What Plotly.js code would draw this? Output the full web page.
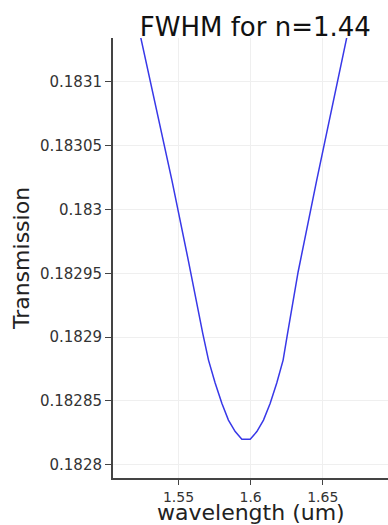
<!DOCTYPE html>
<html>
<head>
<meta charset="utf-8">
<script src="https://cdn.plot.ly/plotly-3.0.1.min.js"></script>
<style>html,body{margin:0;padding:0;background:#fff;}#chart{width:388px;height:525px;}</style>
</head>
<body>
<div id="chart"></div>
<script>
// wavelength (um)
const wavelength = [1.5197, 1.5240, 1.5454, 1.5570, 1.5630, 1.5668, 1.5708, 1.5754, 1.5801, 1.5846, 1.5893, 1.5939, 1.5997, 1.6043, 1.6089, 1.6135, 1.6181, 1.6225, 1.6253, 1.6329, 1.6458, 1.6666, 1.6706];
// transmission
const transmission = [0.183156, 0.183134, 0.183023, 0.182959, 0.182924, 0.182903, 0.182882, 0.182864, 0.182848, 0.182835, 0.182826, 0.182820, 0.182820, 0.182826, 0.182835, 0.182848, 0.182864, 0.182882, 0.182901, 0.182951, 0.183023, 0.183134, 0.183156];

const xTickVals = [1.55, 1.6, 1.65];
const xTickText = ["1.55", "1.6", "1.65"];
const yTickVals = [0.1828, 0.18285, 0.1829, 0.18295, 0.183, 0.18305, 0.1831];
const yTickText = ["0.1828", "0.18285", "0.1829", "0.18295", "0.183", "0.18305", "0.1831"];
const xTitle = "wavelength (um)";

const font = "DejaVu Sans, sans-serif";

const trace = {
  x: wavelength,
  y: transmission,
  type: "scatter",
  mode: "lines",
  line: {color: "#3838e8", width: 1.5},
  showlegend: false,
  hoverinfo: "none"
};

const layout = {
  width: 388,
  height: 525,
  margin: {l: 113, r: 0, t: 38, b: 47},
  paper_bgcolor: "#ffffff",
  plot_bgcolor: "#ffffff",
  font: {family: font, color: "#333"},
  title: {
    text: "FWHM for n=1.44",
    font: {family: font, size: 26, color: "#111"},
    xref: "container", x: 0.658, xanchor: "center",
    yref: "container", y: 0.949, yanchor: "middle"
  },
  xaxis: {
    range: [1.5046, 1.6952],
    tickvals: xTickVals,
    ticktext: xTickText,
    ticks: "outside", ticklen: 5, tickcolor: "#444", tickwidth: 1,
    showline: true, linecolor: "#444", linewidth: 2,
    showgrid: true, gridcolor: "#efefef", gridwidth: 1,
    zeroline: false,
    tickfont: {family: font, size: 14, color: "#333"},
    automargin: false
  },
  yaxis: {
    range: [0.18278965, 0.18313427],
    tickvals: yTickVals,
    ticktext: yTickText,
    ticks: "outside", ticklen: 6, tickcolor: "#444", tickwidth: 1,
    showline: true, linecolor: "#444", linewidth: 2,
    showgrid: true, gridcolor: "#efefef", gridwidth: 1,
    zeroline: false,
    tickfont: {family: font, size: 15, color: "#333"},
    title: {text: "Transmission", font: {family: font, size: 22, color: "#222"}, standoff: 4},
    automargin: false
  },
  annotations: [{
    text: xTitle,
    xref: "paper", x: 0.5, xanchor: "center",
    yref: "paper", y: -0.079, yanchor: "middle",
    showarrow: false,
    font: {family: font, size: 22, color: "#222"}
  }]
};

Plotly.newPlot("chart", [trace], layout, {displayModeBar: false, staticPlot: true});
</script>
</body>
</html>
